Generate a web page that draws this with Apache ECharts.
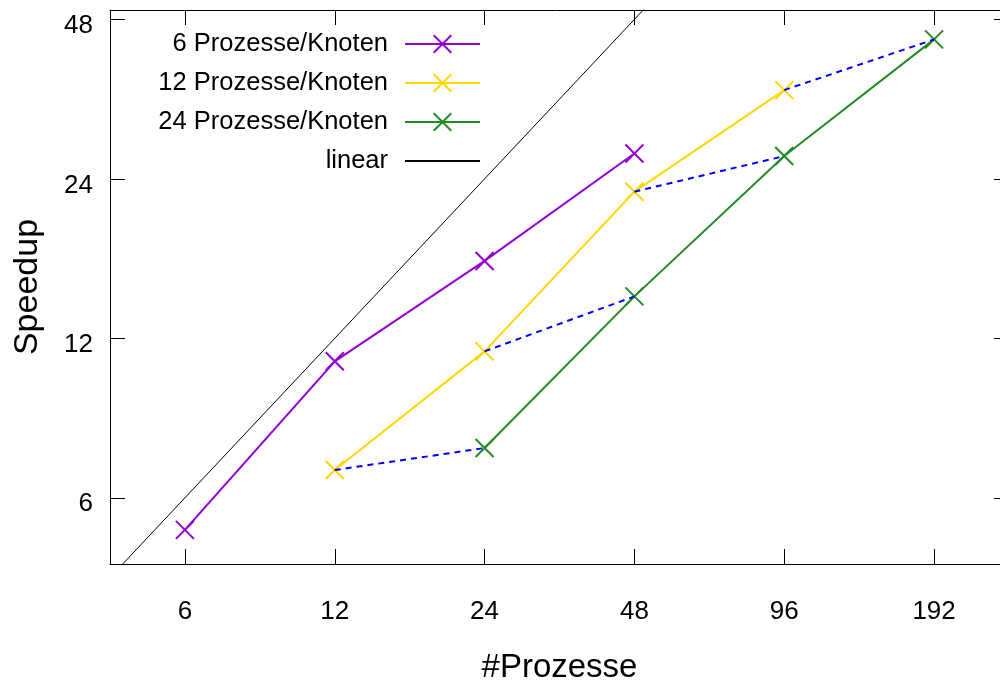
<!DOCTYPE html>
<html>
<head>
<meta charset="utf-8">
<script src="https://cdn.jsdelivr.net/npm/echarts@6/dist/echarts.min.js"></script>
<style>
  html, body { margin: 0; padding: 0; background: #fff; }
  #chart { width: 1000px; height: 684px; }
</style>
</head>
<body>
<div id="chart"></div>
<script>
// Speedup measurements, one array per processes-per-node configuration
const procs6 = [6, 12, 24, 48];
const speedup6 = [5.22, 10.86, 16.8, 26.8];
const procs12 = [12, 24, 48, 96];
const speedup12 = [6.77, 11.34, 22.7, 35.3];
const procs24 = [24, 48, 96, 192];
const speedup24 = [7.45, 14.4, 26.5, 44.0];
const seriesNames = ['6 Prozesse/Knoten', '12 Prozesse/Knoten', '24 Prozesse/Knoten', 'linear'];

// Axis ticks (log2 scale) and ranges
const xTicks = [6, 12, 24, 48, 96, 192];
const yTicks = [6, 12, 24, 48];
const xRange = [6 / Math.SQRT2, 192 * Math.SQRT2];
const yRange = [4.5, 50];
const linearX = [4, 64];

const lx = v => Math.log2(v);
const pts = (xs, ys) => xs.map((x, i) => [lx(x), lx(ys[i])]);
const fmt = v => String(Math.round(Math.pow(2, v)));

const FONT = 'Liberation Sans, Arial, sans-serif';
const colors = ['#9400d3', '#ffd700', '#228b22'];
const crossPath = 'path://M0,0L10,10M0,10L10,0';

function markerSeries(name, data, color) {
  return {
    name, type: 'line', data,
    xAxisIndex: 0, yAxisIndex: 0,
    symbol: crossPath, symbolSize: 18,
    lineStyle: { color, width: 2 },
    itemStyle: { color, borderColor: color, borderWidth: 2 },
    z: 3
  };
}

const series = [
  markerSeries(seriesNames[0], pts(procs6, speedup6), colors[0]),
  markerSeries(seriesNames[1], pts(procs12, speedup12), colors[1]),
  markerSeries(seriesNames[2], pts(procs24, speedup24), colors[2]),
  {
    name: seriesNames[3], type: 'line', data: pts(linearX, linearX),
    symbol: 'none', lineStyle: { color: '#000', width: 1 },
    itemStyle: { color: 'rgba(0,0,0,0)', borderWidth: 0 }, z: 2
  }
];

// Dashed links between runs using the same number of nodes
procs12.forEach((p, i) => {
  series.push({
    type: 'line',
    data: [[lx(p), lx(speedup12[i])], [lx(procs24[i]), lx(speedup24[i])]],
    symbol: 'none',
    lineStyle: { color: '#0000ff', width: 2, type: [6, 5] },
    z: 4, silent: true
  });
});

const tickStyle = { inside: true, length: 15, lineStyle: { color: '#000', width: 1 } };
const lineAx = { show: true, onZero: false, lineStyle: { color: '#000', width: 1 } };

const option = {
  animation: false,
  backgroundColor: '#fff',
  grid: { left: 110, top: 10, right: -9, bottom: 120, outerBoundsMode: 'none', containLabel: false },
  legend: {
    data: seriesNames,
    orient: 'vertical',
    align: 'right',
    right: 514, top: 26,
    itemWidth: 75, itemHeight: 22, itemGap: 13,
    textStyle: { fontFamily: FONT, fontSize: 25.5, color: '#000', lineHeight: 22, padding: [0, 12, 0, 0] }
  },
  xAxis: [
    {
      type: 'value', min: lx(xRange[0]), max: lx(xRange[1]), position: 'bottom',
      name: '#Prozesse', nameLocation: 'middle', nameGap: 87,
      nameTextStyle: { fontFamily: FONT, fontSize: 33, color: '#000' },
      axisLine: lineAx,
      axisTick: Object.assign({ customValues: xTicks.map(lx) }, tickStyle),
      axisLabel: { customValues: xTicks.map(lx), formatter: fmt, margin: 35, fontFamily: FONT, fontSize: 26, color: '#000' },
      splitLine: { show: false }
    },
    {
      type: 'value', min: lx(xRange[0]), max: lx(xRange[1]), position: 'top',
      axisLine: lineAx,
      axisTick: Object.assign({ customValues: xTicks.map(lx) }, tickStyle),
      axisLabel: { show: false }, splitLine: { show: false }
    }
  ],
  yAxis: [
    {
      type: 'value', min: lx(yRange[0]), max: lx(yRange[1]), position: 'left',
      name: 'Speedup', nameLocation: 'middle', nameGap: 65, nameRotate: 90,
      nameTextStyle: { fontFamily: FONT, fontSize: 34, color: '#000' },
      axisLine: lineAx,
      axisTick: Object.assign({ customValues: yTicks.map(lx) }, tickStyle),
      axisLabel: {
        customValues: yTicks.map(lx),
        formatter: v => '{t|' + fmt(v) + '}',
        margin: 17,
        rich: { t: { fontFamily: FONT, fontSize: 26, color: '#000', padding: [13, 0, 0, 0] } }
      },
      splitLine: { show: false }
    },
    {
      type: 'value', min: lx(yRange[0]), max: lx(yRange[1]), position: 'right',
      axisLine: lineAx,
      axisTick: Object.assign({ customValues: yTicks.map(lx) }, tickStyle),
      axisLabel: { show: false }, splitLine: { show: false }
    }
  ],
  series
};

const chart = echarts.init(document.getElementById('chart'), null, { renderer: 'canvas' });
chart.setOption(option);
</script>
</body>
</html>
